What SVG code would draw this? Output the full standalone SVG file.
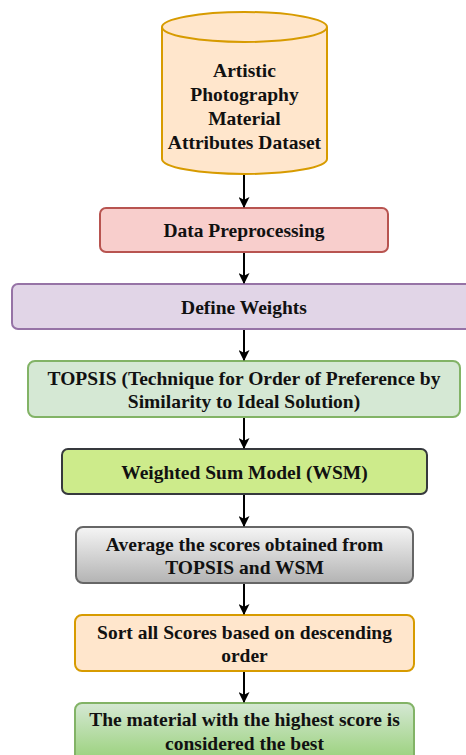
<svg xmlns="http://www.w3.org/2000/svg" width="466" height="755" viewBox="0 0 466 755">
<defs>
<marker id="arr" viewBox="0 0 10 10" refX="9" refY="5" markerWidth="5.5" markerHeight="5.5" orient="auto" markerUnits="strokeWidth">
<path d="M0,0 L10,5 L0,10 L2.5,5 Z" fill="#000"/>
</marker>
<linearGradient id="gGray" x1="0" y1="0" x2="0" y2="1"><stop offset="0" stop-color="#f5f5f5"/><stop offset="1" stop-color="#b3b3b3"/></linearGradient>
<linearGradient id="gGreen" x1="0" y1="0" x2="0" y2="1"><stop offset="0" stop-color="#d5e8d4"/><stop offset="1" stop-color="#97d077"/></linearGradient>
</defs>
<style>
text{font-family:"Liberation Serif","Times New Roman",serif;font-weight:bold;font-size:19.5px;fill:#111;text-anchor:middle;dominant-baseline:central}
.c line{stroke:#000;stroke-width:2;marker-end:url(#arr)}
rect{stroke-width:2}
</style>
<g id="dataset">
<path d="M162,27 L162,159 A82.5,15 0 0 0 327,159 L327,27 A82.5,15 0 0 0 162,27 Z" fill="#ffe6cc" stroke="#d79b00" stroke-width="2"/>
<path d="M162,27 A82.5,15 0 0 0 327,27" fill="none" stroke="#d79b00" stroke-width="2"/>
<text x="244.5" y="70">Artistic</text>
<text x="244.5" y="94">Photography</text>
<text x="244.5" y="118">Material</text>
<text x="244.5" y="142">Attributes Dataset</text>
</g>
<g id="preprocessing">
<rect x="100" y="208" width="288" height="44" rx="6" fill="#f8cecc" stroke="#b85450"/>
<text x="244" y="230">Data Preprocessing</text>
</g>
<g id="weights">
<rect x="12" y="284" width="462" height="45" rx="6" fill="#e1d5e7" stroke="#9673a6"/>
<text x="244" y="307">Define Weights</text>
</g>
<g id="topsis">
<rect x="28" y="361" width="432" height="56" rx="7" fill="#d5e8d4" stroke="#82b366"/>
<text x="244" y="378">TOPSIS (Technique for Order of Preference by</text>
<text x="244" y="401">Similarity to Ideal Solution)</text>
</g>
<g id="wsm">
<rect x="62" y="449" width="365" height="45" rx="6" fill="#cdeb8b" stroke="#36393d"/>
<text x="244.5" y="472">Weighted Sum Model (WSM)</text>
</g>
<g id="average">
<rect x="76" y="527" width="337" height="56" rx="7" fill="url(#gGray)" stroke="#666666"/>
<text x="244.5" y="544">Average the scores obtained from</text>
<text x="244.5" y="567">TOPSIS and WSM</text>
</g>
<g id="sort">
<rect x="75" y="615" width="339" height="56" rx="7" fill="#ffe6cc" stroke="#d79b00"/>
<text x="244.5" y="632">Sort all Scores based on descending</text>
<text x="244.5" y="655">order</text>
</g>
<g id="best">
<rect x="75" y="703" width="339" height="60" rx="7" fill="url(#gGreen)" stroke="#82b366"/>
<text x="244.5" y="719">The material with the highest score is</text>
<text x="244.5" y="743">considered the best</text>
</g>
<g id="connectors" class="c">
<line x1="244" y1="175" x2="244" y2="207"/>
<line x1="244" y1="253" x2="244" y2="283"/>
<line x1="244" y1="330" x2="244" y2="360"/>
<line x1="244" y1="418" x2="244" y2="448"/>
<line x1="244" y1="495" x2="244" y2="526"/>
<line x1="244" y1="584" x2="244" y2="614"/>
<line x1="244" y1="672" x2="244" y2="702"/>
</g>
</svg>
